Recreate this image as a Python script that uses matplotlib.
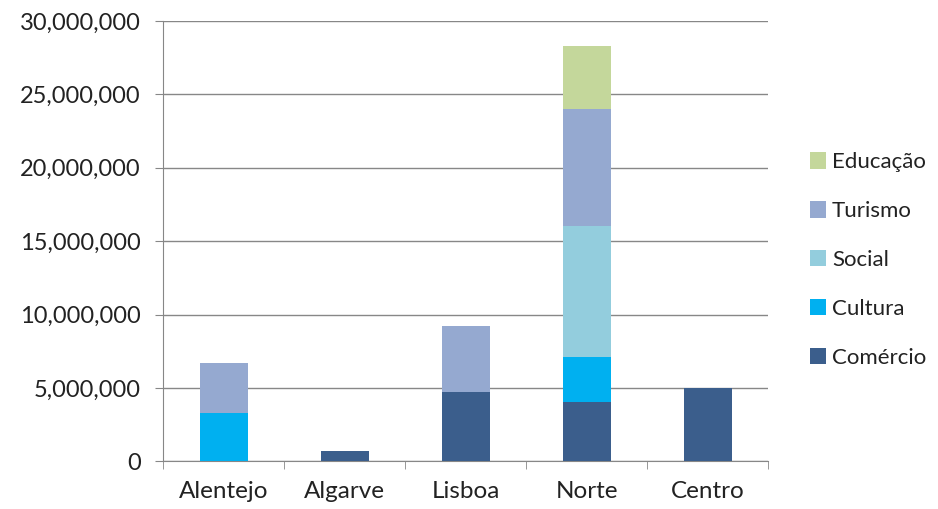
import numpy as np
import matplotlib.pyplot as plt
from matplotlib.ticker import FuncFormatter

# dados
regioes = ['Alentejo', 'Algarve', 'Lisboa', 'Norte', 'Centro']
comercio = [0, 720000, 4740000, 4060000, 5010000]
cultura = [3270000, 0, 0, 3070000, 0]
social = [0, 0, 0, 8900000, 0]
turismo = [3410000, 0, 4480000, 7970000, 0]
educacao = [0, 0, 0, 4290000, 0]

series = [('Comércio', comercio, '#3B5E8C'),
          ('Cultura', cultura, '#00B0F0'),
          ('Social', social, '#93CDDD'),
          ('Turismo', turismo, '#95A9D0'),
          ('Educação', educacao, '#C4D79B')]

plt.rcParams['font.family'] = ['Lato', 'DejaVu Sans']

fig = plt.figure(figsize=(9.38, 5.09), dpi=100)
ax = fig.add_axes([0.174, 0.0937, 0.645, 0.865])

x = np.arange(len(regioes))
base = np.zeros(len(regioes))
handles = []
for nome, vals, cor in series:
    vals = np.array(vals, dtype=float)
    b = ax.bar(x, vals, width=0.4, bottom=base, color=cor, label=nome, zorder=3)
    handles.append(b)
    base += vals

ax.set_xlim(-0.5, len(regioes) - 0.5)
ax.set_ylim(0, 30000000)
ax.set_yticks(np.arange(0, 30000001, 5000000))
ax.yaxis.set_major_formatter(FuncFormatter(lambda v, p: f'{int(v):,}'))
ax.yaxis.grid(True, color='#878787', linewidth=1.0, zorder=0)

ax.set_xticks(x)
ax.set_xticklabels(regioes)
ax.set_xticks(np.arange(-0.5, len(regioes)), minor=True)
ax.tick_params(axis='x', which='major', length=0, pad=14, labelsize=17.5, labelcolor='#222222')
ax.tick_params(axis='x', which='minor', length=6, color='#878787')
ax.tick_params(axis='y', length=6, color='#878787', labelsize=17, pad=10, labelcolor='#222222')

for s in ['top', 'right']:
    ax.spines[s].set_visible(False)
ax.spines['left'].set_color('#878787')
ax.spines['bottom'].set_color('#878787')

fig.legend(handles[::-1], [s[0] for s in series][::-1],
           loc='center left', bbox_to_anchor=(0.842, 0.489),
           frameon=False, fontsize=16, handlelength=0.75, handleheight=0.75,
           handletextpad=0.25, labelspacing=1.3, labelcolor='#222222')

plt.savefig('out.png', dpi=100)
